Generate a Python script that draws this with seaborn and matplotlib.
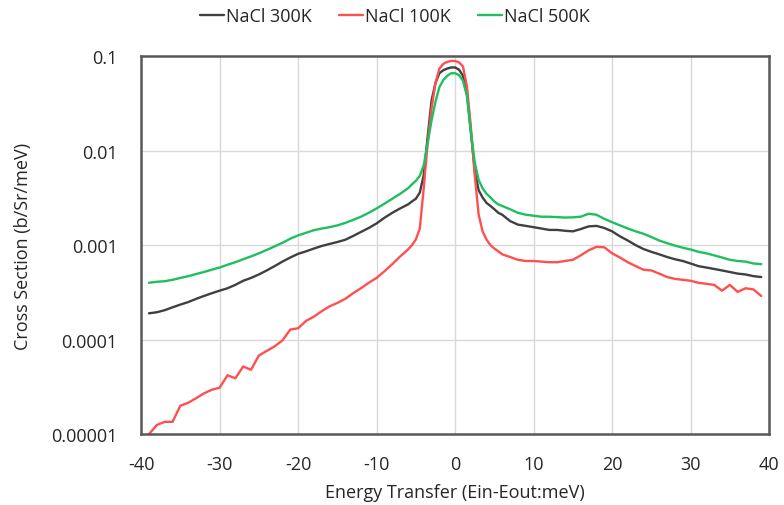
import numpy as np
import pandas as pd
import matplotlib
matplotlib.use("Agg")
import matplotlib.pyplot as plt
import matplotlib.ticker as mticker
import seaborn as sns

energy = ([float(e) for e in range(-39, -5)]
          + [-5.5, -5, -4.5, -4, -3.5, -3, -2.5, -2, -1.5, -1, -0.5, 0,
             0.5, 1, 1.5, 2, 2.5, 3, 3.5, 4, 4.5, 5, 5.5]
          + [float(e) for e in range(6, 40)])

nacl_300 = [1.9e-4, 1.95e-4, 2.05e-4, 2.2e-4, 2.35e-4, 2.5e-4, 2.7e-4, 2.9e-4, 3.1e-4, 3.3e-4,
            3.5e-4, 3.8e-4, 4.2e-4, 4.5e-4, 4.9e-4, 5.4e-4, 6.0e-4, 6.7e-4, 7.4e-4, 8.1e-4,
            8.6e-4, 9.2e-4, 9.8e-4, 1.03e-3, 1.08e-3, 1.14e-3, 1.25e-3, 1.38e-3, 1.52e-3, 1.7e-3,
            1.95e-3, 2.2e-3, 2.45e-3, 2.7e-3,
            2.9e-3, 3.1e-3, 3.6e-3, 5.5e-3, 0.014, 0.034, 0.052, 0.066, 0.071, 0.074, 0.076, 0.076,
            0.072, 0.062, 0.042, 0.016, 0.0062, 0.0038, 0.0032, 0.0028, 0.0026, 0.0024, 0.0022,
            0.0021, 0.0018, 0.00165, 0.0016, 0.00155, 0.0015, 0.00145, 0.00145, 0.00142, 0.0014,
            0.00148, 0.00158, 0.0016, 0.00152, 0.0014, 0.00124, 0.00112, 0.001, 0.00091, 0.00085,
            0.0008, 0.00075, 0.00071, 0.00068, 0.00064, 0.0006, 0.00058, 0.00056, 0.00054, 0.00052,
            0.0005, 0.00049, 0.00047, 0.00046]

nacl_100 = [1.0e-5, 1.25e-5, 1.35e-5, 1.35e-5, 2.0e-5, 2.15e-5, 2.4e-5, 2.7e-5, 2.95e-5, 3.1e-5,
            4.2e-5, 3.9e-5, 5.2e-5, 4.8e-5, 6.8e-5, 7.6e-5, 8.5e-5, 9.8e-5, 1.28e-4, 1.32e-4,
            1.58e-4, 1.75e-4, 2.0e-4, 2.25e-4, 2.45e-4, 2.7e-4, 3.1e-4, 3.5e-4, 4.0e-4, 4.5e-4,
            5.3e-4, 6.3e-4, 7.6e-4, 9.0e-4,
            1.0e-3, 1.15e-3, 1.5e-3, 4.0e-3, 0.012, 0.028, 0.052, 0.074, 0.083, 0.087, 0.089, 0.089,
            0.086, 0.078, 0.048, 0.018, 0.0055, 0.0021, 0.0014, 0.00115, 0.001, 0.00092, 0.00086,
            0.0008, 0.00075, 0.0007, 0.00068, 0.00068, 0.00067, 0.00066, 0.00066, 0.00068, 0.0007,
            0.00078, 0.00088, 0.00096, 0.00095, 0.00082, 0.00074, 0.00066, 0.0006, 0.00055, 0.00054,
            0.0005, 0.00046, 0.00044, 0.00043, 0.00042, 0.0004, 0.00039, 0.00038, 0.00033, 0.00038,
            0.00032, 0.00035, 0.00034, 0.00029]

nacl_500 = [4.0e-4, 4.1e-4, 4.15e-4, 4.3e-4, 4.5e-4, 4.7e-4, 4.95e-4, 5.2e-4, 5.5e-4, 5.8e-4,
            6.2e-4, 6.6e-4, 7.1e-4, 7.6e-4, 8.2e-4, 8.9e-4, 9.7e-4, 1.06e-3, 1.17e-3, 1.27e-3,
            1.35e-3, 1.44e-3, 1.5e-3, 1.55e-3, 1.62e-3, 1.72e-3, 1.85e-3, 2.0e-3, 2.2e-3, 2.45e-3,
            2.75e-3, 3.1e-3, 3.5e-3, 4.0e-3,
            4.4e-3, 4.8e-3, 5.4e-3, 7.0e-3, 0.012, 0.021, 0.033, 0.047, 0.056, 0.062, 0.066, 0.066,
            0.063, 0.055, 0.038, 0.016, 0.0075, 0.0049, 0.0040, 0.0035, 0.0032, 0.0029, 0.0027,
            0.0026, 0.0024, 0.0022, 0.0021, 0.00205, 0.002, 0.002, 0.00198, 0.00196, 0.00197,
            0.002, 0.00215, 0.0021, 0.0019, 0.00175, 0.00162, 0.0015, 0.0014, 0.00132, 0.00122,
            0.00112, 0.00105, 0.00099, 0.00094, 0.0009, 0.00085, 0.00082, 0.00078, 0.00074, 0.0007,
            0.00068, 0.00067, 0.00064, 0.00063]

series_names = ["NaCl 300K", "NaCl 100K", "NaCl 500K"]
series_colors = ["#404040", "#ff4f4f", "#1fbf5f"]
y_ticks = [1e-5, 1e-4, 1e-3, 1e-2, 1e-1]
y_tick_labels = ["0.00001", "0.0001", "0.001", "0.01", "0.1"]
x_ticks = [-40, -30, -20, -10, 0, 10, 20, 30, 40]

df = pd.concat([
    pd.DataFrame({"E": energy, "cs": vals, "series": name})
    for name, vals in zip(series_names, [nacl_300, nacl_100, nacl_500])
])

sns.set_style("white")
plt.rcParams["font.family"] = ["Open Sans", "DejaVu Sans"]

FS = 13
TXT = "#262626"

fig = plt.figure(figsize=(7.84, 5.06), dpi=100)
ax = fig.add_axes([0.180, 0.140, 0.801, 0.747])

sns.lineplot(data=df, x="E", y="cs", hue="series", hue_order=series_names,
             palette=series_colors, linewidth=1.7, ax=ax, estimator=None, sort=True)

ax.set_yscale("log")
ax.set_xlim(-40, 40)
ax.set_ylim(1e-5, 1e-1)
ax.set_xticks(x_ticks)
ax.set_xticklabels([str(t) for t in x_ticks])
ax.xaxis.set_minor_locator(mticker.MultipleLocator(2))
ax.set_yticks(y_ticks)
ax.set_yticklabels(y_tick_labels)
ax.yaxis.set_minor_locator(mticker.LogLocator(base=10, subs=np.arange(2, 10)))
ax.yaxis.set_minor_formatter(mticker.NullFormatter())

ax.grid(True, which="major", color="#d9d9d9", linewidth=1.0)
ax.set_axisbelow(True)
for sp in ax.spines.values():
    sp.set_visible(True)
    sp.set_color("#595959")
    sp.set_linewidth(1.8)

ax.tick_params(axis="both", which="major", direction="in", length=5, width=1.2,
               color="#595959", labelsize=FS, labelcolor=TXT)
ax.tick_params(axis="x", which="major", pad=15)
ax.tick_params(axis="y", which="major", pad=17)
ax.tick_params(axis="both", which="minor", direction="in", length=3, width=1.0,
               color="#595959")
ax.tick_params(axis="x", which="both", top=False)
ax.tick_params(axis="y", which="both", right=False)

ax.set_xlabel("Energy Transfer (Ein-Eout:meV)", fontsize=FS, color=TXT, labelpad=7)
ax.set_ylabel("Cross Section (b/Sr/meV)", fontsize=FS, color=TXT, labelpad=14)

handles, labels = ax.get_legend_handles_labels()
ax.legend(handles, labels, loc="center", bbox_to_anchor=(0.504, 0.966),
          bbox_transform=fig.transFigure, ncol=3, frameon=False,
          handlelength=1.3, handletextpad=0.15, columnspacing=1.5, fontsize=FS)

fig.savefig("out.png", dpi=100)
